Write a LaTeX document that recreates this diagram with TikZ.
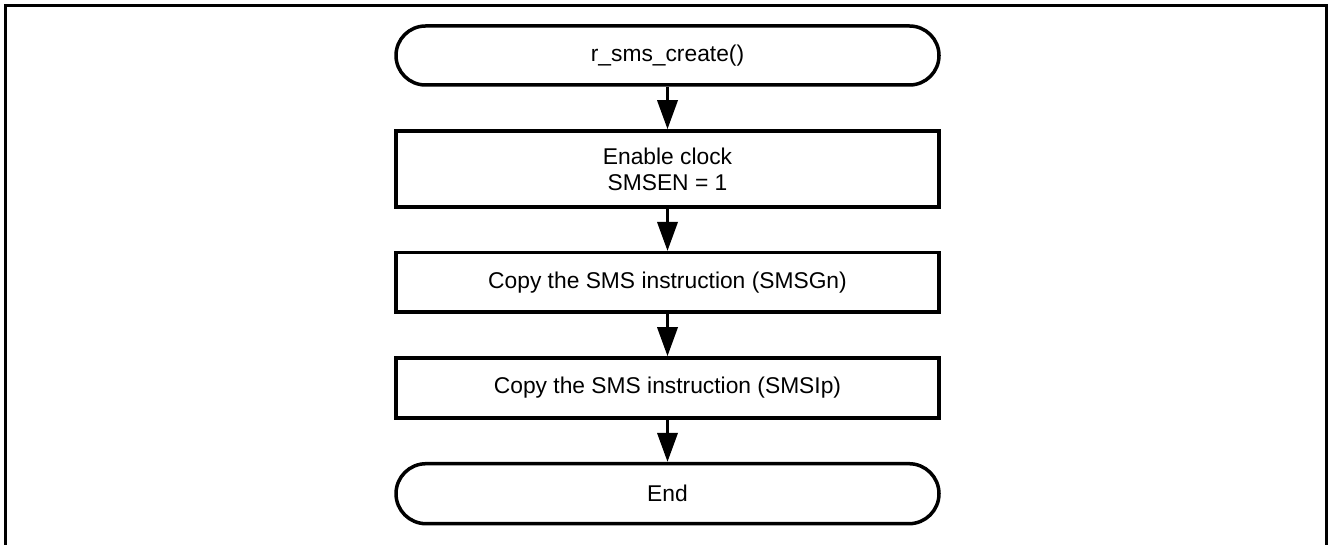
\documentclass[tikz,border=0pt]{standalone}
\usepackage{fontspec}
\setmainfont{Liberation Sans}
\usetikzlibrary{arrows.meta}

\tikzset{
  flowline/.style={line width=3.5pt},
  procbox/.style={draw, line width=3.5pt, minimum width=543pt, inner sep=0pt,
    align=center, font=\fontsize{22.8pt}{26pt}\selectfont},
  termbox/.style={procbox, rounded corners=29.5pt, minimum height=59pt},
  flowarrow/.style={flowline, -{Triangle[length=29pt,width=20pt]}},
}

\begin{document}
\begin{tikzpicture}[x=1pt,y=-1pt]
  \useasboundingbox (0,0) rectangle (1328,545);

  % open frame (top, left and right sides)
  \draw[flowline] (5.5,545) -- (5.5,5.5) -- (1326.5,5.5) -- (1326.5,545);

  \node[termbox] (start) at (667.5,55.5) {r\_sms\_create()};
  \node[procbox, minimum height=76pt] (clock) at (667.5,169) {Enable clock\\SMSEN = 1};
  \node[procbox, minimum height=59.5pt] (copyg) at (667.5,282.5) {Copy the SMS instruction (SMSGn)};
  \node[procbox, minimum height=60pt] (copyi) at (667.5,388) {Copy the SMS instruction (SMSIp)};
  \node[termbox, minimum height=60pt, rounded corners=30pt] (stop) at (667.5,493.7) {End};

  \draw[flowarrow] (start) -- (clock);
  \draw[flowarrow] (clock) -- (copyg);
  \draw[flowarrow] (copyg) -- (copyi);
  \draw[flowarrow] (copyi) -- (stop);
\end{tikzpicture}
\end{document}
